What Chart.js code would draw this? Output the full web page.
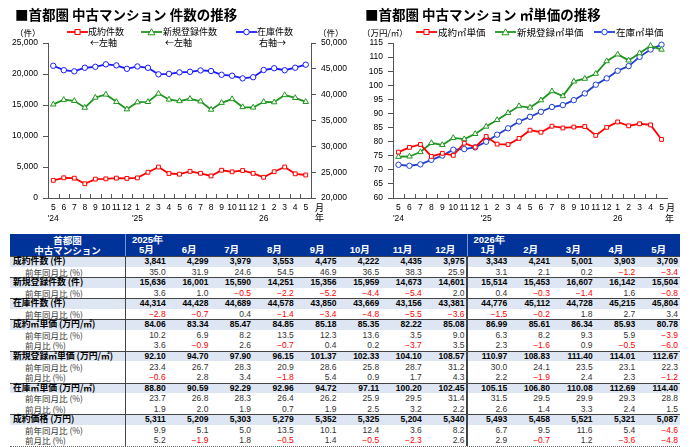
<!DOCTYPE html>
<html><head><meta charset="utf-8">
<script src="https://cdn.jsdelivr.net/npm/chart.js@4.4.1/dist/chart.umd.min.js"></script>
<style>
html,body{margin:0;padding:0;background:#fff;}
body{width:700px;height:447px;overflow:hidden;position:relative;font-family:"Noto Sans CJK JP","Liberation Sans",sans-serif;color:#000;}
.abs{position:absolute;white-space:nowrap;}
.title{font-size:13.5px;font-weight:bold;line-height:16px;}
.lg{font-size:9px;line-height:10px;}
.lg2{font-size:9.5px;line-height:10px;}
canvas{position:absolute;top:0;}
.cell{position:absolute;white-space:nowrap;overflow:visible;}
</style>
</head><body>
<canvas id="c1" width="350" height="228" style="left:0"></canvas>
<canvas id="c2" width="350" height="228" style="left:350px"></canvas>
<div id="overlay"></div>
<div id="table"></div>
<script>
// ---- chart data ----
const monthLabels = ['5','6','7','8','9','10','11','12','1','2','3','4','5','6','7','8','9','10','11','12','1','2','3','4','5'];
const yearLabels  = ["'24",'','','','','','','',"'25",'','','','','','','','','','','','26','','','',''];
const contracts   = [2845,3259,3193,2300,3046,3093,3207,3157,3242,4154,4991,3950,3841,4299,3979,3553,4475,4222,4435,3975,3343,4241,5001,3903,3709];
const newListings = [15093,15843,15668,14572,16198,16693,15511,14315,15452,15499,16843,15888,15636,16001,15590,14251,15356,15959,14673,14601,15514,15453,16607,16142,15504];
const inventory   = [45591,44741,44511,45211,45393,45871,45668,45001,45458,45202,43937,44026,44314,44428,44689,44578,43850,43669,43156,43381,44776,45112,44728,45215,45804];
const contractPsm = [76.28,77.96,78.99,74.76,75.85,75.13,79.44,78.06,81.83,79.12,78.99,81.14,84.06,83.34,85.47,84.85,85.18,85.35,82.22,85.08,86.99,85.61,86.34,85.93,80.78];
const newPsm      = [74.64,74.74,76.31,79.53,78.83,81.34,80.89,82.75,85.36,87.70,90.20,92.62,92.10,94.70,97.90,96.15,101.37,102.33,104.10,108.57,110.97,108.83,111.40,114.01,112.67];
const invPsm      = [71.79,71.44,71.93,73.54,75.06,77.13,77.37,77.97,79.96,82.47,84.74,87.15,88.80,90.59,92.29,92.96,94.72,97.11,100.20,102.45,105.15,106.80,110.08,112.69,114.40];
const leftSeriesNames  = ['成約件数','新規登録件数','在庫件数'];
const axisNotes        = ['←左軸','←左軸','右軸→'];
const rightSeriesNames = ['成約㎡単価','新規登録㎡単価','在庫㎡単価'];

// ---- table data ----
const tableMonths = ['5月','6月','7月','8月','9月','10月','11月','12月','1月','2月','3月','4月','5月'];
const tableYears  = ['2025年','2026年'];
const tContracts    = [3841,4299,3979,3553,4475,4222,4435,3975,3343,4241,5001,3903,3709];
const tContractsYoY = [35.0,31.9,24.6,54.5,46.9,36.5,38.3,25.9,3.1,2.1,0.2,-1.2,-3.4];
const tNew          = [15636,16001,15590,14251,15356,15959,14673,14601,15514,15453,16607,16142,15504];
const tNewYoY       = [3.6,1.0,-0.5,-2.2,-5.2,-4.4,-5.4,2.0,0.4,-0.3,-1.4,1.6,-0.8];
const tInv          = [44314,44428,44689,44578,43850,43669,43156,43381,44776,45112,44728,45215,45804];
const tInvYoY       = [-2.8,-0.7,0.4,-1.4,-3.4,-4.8,-5.5,-3.6,-1.5,-0.2,1.8,2.7,3.4];
const tCPsm         = [84.06,83.34,85.47,84.85,85.18,85.35,82.22,85.08,86.99,85.61,86.34,85.93,80.78];
const tCPsmYoY      = [10.2,6.9,8.2,13.5,12.3,13.6,3.5,9.0,6.3,8.2,9.3,5.9,-3.9];
const tCPsmMoM      = [3.6,-0.9,2.6,-0.7,0.4,0.2,-3.7,3.5,2.3,-1.6,0.9,-0.5,-6.0];
const tNPsm         = [92.10,94.70,97.90,96.15,101.37,102.33,104.10,108.57,110.97,108.83,111.40,114.01,112.67];
const tNPsmYoY      = [23.4,26.7,28.3,20.9,28.6,25.8,28.7,31.2,30.0,24.1,23.5,23.1,22.3];
const tNPsmMoM      = [-0.6,2.8,3.4,-1.8,5.4,0.9,1.7,4.3,2.2,-1.9,2.4,2.3,-1.2];
const tIPsm         = [88.80,90.59,92.29,92.96,94.72,97.11,100.20,102.45,105.15,106.80,110.08,112.69,114.40];
const tIPsmYoY      = [23.7,26.8,28.3,26.4,26.2,25.9,29.5,31.4,31.5,29.5,29.9,29.3,28.8];
const tIPsmMoM      = [1.9,2.0,1.9,0.7,1.9,2.5,3.2,2.2,2.6,1.4,3.3,2.4,1.5];
const tPrice        = [5311,5209,5303,5279,5352,5325,5204,5340,5493,5458,5521,5321,5087];
const tPriceYoY     = [9.9,5.1,5.0,13.5,10.1,12.4,3.6,8.2,6.7,9.5,11.6,5.4,-4.6];
const tPriceMoM     = [5.2,-1.9,1.8,-0.5,1.4,-0.5,-2.3,2.6,2.9,-0.7,1.2,-3.6,-4.8];

// ---- styles ----
const RED='#ff0000', GREEN='#1e961e', BLUE1='#1a1aff', BLUE2='#1f3fd0', AXIS='#555';
const tickFont={family:'"Liberation Sans", Arial, sans-serif',size:8.5};

const innerTicks={
  id:'innerTicks',
  afterDraw(chart){
    const x=chart.scales.x, ctx=chart.ctx, b=chart.chartArea.bottom, n=x.ticks.length;
    ctx.save(); ctx.strokeStyle=AXIS; ctx.lineWidth=1; ctx.beginPath();
    for(let i=1;i<n;i++){const px=Math.round(x.left+i*x.width/n)+0.5; ctx.moveTo(px,b); ctx.lineTo(px,b-4);}
    ctx.stroke(); ctx.restore();
  }
};

const xLabels=monthLabels.map((m,i)=>[m,yearLabels[i]]);
function ds(label,data,color,style,axis){
  return {label,data,borderColor:color,backgroundColor:'#fff',pointBackgroundColor:'#fff',pointBorderColor:color,
    pointStyle:style,pointRadius:style==='triangle'?3.2:2.7,pointBorderWidth:1,borderWidth:1.8,tension:0,yAxisID:axis,clip:false};
}
function xScale(){
  return {type:'category',offset:true,
    grid:{display:true,drawOnChartArea:false,drawTicks:false,color:'rgba(0,0,0,0)'},
    border:{display:true,color:AXIS,width:1},
    ticks:{autoSkip:false,maxRotation:0,minRotation:0,padding:5,font:tickFont,color:'#000'},
    afterFit(s){s.height=30;}};
}
function yScale(pos,min,max,step,w,fmt){
  return {position:pos,min,max,
    ticks:{stepSize:step,padding:5,font:tickFont,color:'#000',callback:fmt},
    grid:{drawOnChartArea:false,drawTicks:true,tickLength:5,color:AXIS},
    border:{display:true,color:AXIS,width:1},
    afterFit(s){s.width=w;}};
}
const fmtComma=v=>v.toLocaleString('en-US');
const common={responsive:false,animation:false,devicePixelRatio:1,
  plugins:{legend:{display:false},tooltip:{enabled:false}}};

new Chart(document.getElementById('c1'),{type:'line',
  data:{labels:xLabels,datasets:[
    ds(leftSeriesNames[0],contracts,RED,'rect','y'),
    ds(leftSeriesNames[1],newListings,GREEN,'triangle','y'),
    ds(leftSeriesNames[2],inventory,BLUE1,'circle','y2')]},
  options:Object.assign({},common,{layout:{padding:{top:43,left:0,right:0,bottom:0}},
    scales:{x:xScale(),y:yScale('left',0,25000,5000,48,fmtComma),y2:yScale('right',20000,50000,5000,39,fmtComma)}}),
  plugins:[innerTicks]});

new Chart(document.getElementById('c2'),{type:'line',
  data:{labels:xLabels,datasets:[
    ds(rightSeriesNames[0],contractPsm,RED,'rect','y'),
    ds(rightSeriesNames[1],newPsm,GREEN,'triangle','y'),
    ds(rightSeriesNames[2],invPsm,BLUE2,'circle','y')]},
  options:Object.assign({},common,{layout:{padding:{top:43,left:0,right:33,bottom:0}},
    scales:{x:xScale(),y:yScale('left',60,115,5,43,v=>v)}}),
  plugins:[innerTicks]});

// ---- overlay texts & legends ----
function marker(color,style){
  let m='';
  if(style==='rect') m=`<rect x="8" y="1.5" width="5" height="5" fill="#fff" stroke="${color}" stroke-width="1"/>`;
  if(style==='triangle') m=`<polygon points="10.5,0.8 14,6.8 7,6.8" fill="#fff" stroke="${color}" stroke-width="1"/>`;
  if(style==='circle') m=`<circle cx="10.5" cy="4" r="2.8" fill="#fff" stroke="${color}" stroke-width="1"/>`;
  return `<svg width="21" height="8" style="display:block"><line x1="0" y1="4" x2="21" y2="4" stroke="${color}" stroke-width="1.8"/>${m}</svg>`;
}
const ov=document.getElementById('overlay');
function txt(x,y,s,cls,extra){const d=document.createElement('div');d.className='abs '+(cls||'');d.style.left=x+'px';d.style.top=y+'px';if(extra)d.style.cssText+=extra;d.textContent=s;ov.appendChild(d);return d;}
function mk(x,y,color,style){const d=document.createElement('div');d.className='abs';d.style.left=x+'px';d.style.top=y+'px';d.innerHTML=marker(color,style);ov.appendChild(d);}
txt(15,6,'■首都圏 中古マンション 件数の推移','title');
txt(365,6,'■首都圏 中古マンション ㎡単価の推移','title');
txt(15,27,'（件）','lg','font-size:8.5px;');
txt(318,27,'（件）','lg','font-size:8.5px;');
txt(362,27,'（万円/㎡）','lg','font-size:8.5px;');
const lgL=[[67,88,RED,'rect'],[141,163,GREEN,'triangle'],[236,257,BLUE1,'circle']];
lgL.forEach((l,i)=>{mk(l[0],28,l[2],l[3]);txt(l[1],27,leftSeriesNames[i],'lg');txt(l[1]+2,38,axisNotes[i],'lg');});
const lgR=[[416,438,RED,'rect'],[495,517,GREEN,'triangle'],[594,616,BLUE2,'circle']];
lgR.forEach((l,i)=>{mk(l[0],28,l[2],l[3]);txt(l[1],27,rightSeriesNames[i],'lg2');});
txt(315,203,'月','lg');txt(315,213,'年','lg');
txt(666,203,'月','lg');txt(665,214,'年','lg');

// ---- table ----
const T=document.getElementById('table');
const TX=10,TW=670,LABW=115,COLW=(TW-LABW)/13,HT=234,HH=22,RH=10.55;
function cell(x,y,w,h,s,css){const d=document.createElement('div');d.className='cell';d.style.left=x+'px';d.style.top=y+'px';if(w!=null)d.style.width=w+'px';if(h!=null){d.style.height=h+'px';d.style.lineHeight=h+'px';}d.style.cssText+=css||'';d.textContent=s||'';T.appendChild(d);return d;}
cell(TX,HT,TW,HH,'','background:#003399;');
const hcss='color:#fff;font-weight:bold;font-size:9.5px;';
cell(TX,HT+1,LABW,10,'首都圏',hcss+'text-align:center;');
cell(TX,HT+11,LABW,10,'中古マンション',hcss+'text-align:center;');
cell(TX+LABW+7,HT+1,null,10,tableYears[0],hcss+'font-family:"Liberation Sans",sans-serif;');
cell(TX+LABW+8*COLW+7,HT+1,null,10,tableYears[1],hcss+'font-family:"Liberation Sans",sans-serif;');
tableMonths.forEach((m,i)=>cell(TX+LABW+i*COLW,HT+11,COLW,10,m,hcss+'text-align:center;font-family:"Liberation Sans","Noto Sans CJK JP",sans-serif;'));
cell(TX+LABW,HT,1,HH,'','background:#7d93cf;');
cell(TX+LABW+8*COLW,HT,1,HH,'','background:#7d93cf;');

const fmtInt=v=>v.toLocaleString('en-US');
const fmt2=v=>v.toFixed(2);
const fmtPct=v=>(v<0?'−':'')+Math.abs(v).toFixed(1);
const rows=[
  ['成約件数 (件)',tContracts,fmtInt,true],
  ['前年同月比 (%)',tContractsYoY,fmtPct,false],
  ['新規登録件数 (件)',tNew,fmtInt,true],
  ['前年同月比 (%)',tNewYoY,fmtPct,false],
  ['在庫件数 (件)',tInv,fmtInt,true],
  ['前年同月比 (%)',tInvYoY,fmtPct,false],
  ['成約㎡単価 (万円/㎡)',tCPsm,fmt2,true],
  ['前年同月比 (%)',tCPsmYoY,fmtPct,false],
  ['前月比 (%)',tCPsmMoM,fmtPct,false],
  ['新規登録㎡単価 (万円/㎡)',tNPsm,fmt2,true],
  ['前年同月比 (%)',tNPsmYoY,fmtPct,false],
  ['前月比 (%)',tNPsmMoM,fmtPct,false],
  ['在庫㎡単価 (万円/㎡)',tIPsm,fmt2,true],
  ['前年同月比 (%)',tIPsmYoY,fmtPct,false],
  ['前月比 (%)',tIPsmMoM,fmtPct,false],
  ['成約価格 (万円)',tPrice,fmtInt,true],
  ['前年同月比 (%)',tPriceYoY,fmtPct,false],
  ['前月比 (%)',tPriceMoM,fmtPct,false]
];
const top0=HT+HH;
rows.forEach((r,ri)=>{
  const y=top0+ri*RH, main=r[3];
  if(main){cell(TX,y,TW,RH,'','background:#dde6f2;');cell(TX,y,TW,1,'','background:#444;');}
  cell(TX+(main?3:15),y,null,RH,r[0],main?'font-weight:bold;font-size:8.8px;':'font-size:8.5px;color:#333;');
  r[1].forEach((v,i)=>{
    const neg=v<0;
    cell(TX+LABW+i*COLW,y,COLW-2,RH,r[2](v),'text-align:right;font-family:"Liberation Sans",Arial,sans-serif;'+(main?'font-weight:bold;font-size:8.5px;':'font-size:8.5px;')+'color:'+(neg?'#ff0000':(main?'#000':'#333'))+';');
  });
});
const tb=top0+rows.length*RH;
cell(TX+LABW-0.5,top0,1.5,tb-top0,'','background:#444;');
cell(TX+LABW+8*COLW-0.5,top0,1.5,tb-top0,'','background:#444;');
cell(TX,tb,TW,0,'','border-top:1px dotted #666;');
</script>
</body></html>
